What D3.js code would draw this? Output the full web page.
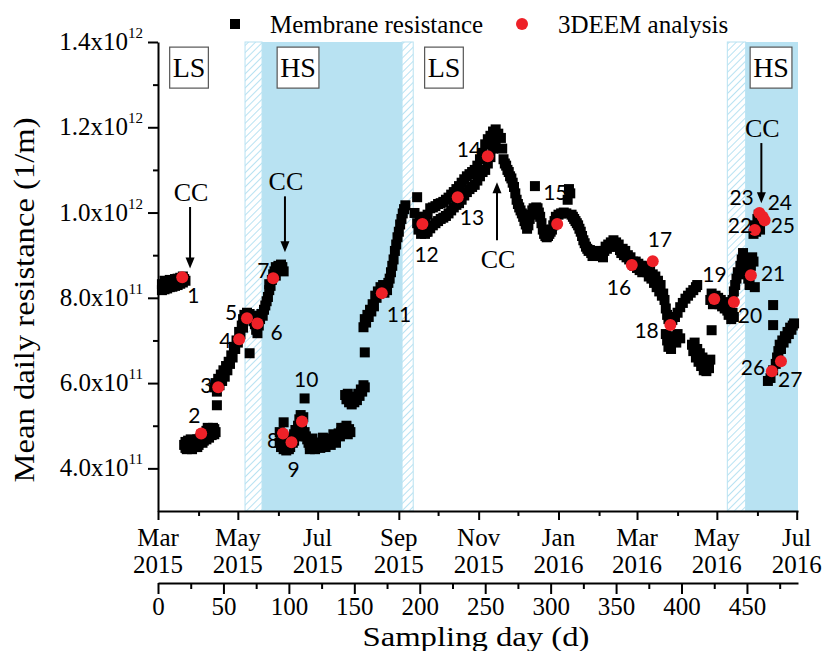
<!DOCTYPE html>
<html><head><meta charset="utf-8">
<script src="https://cdn.jsdelivr.net/npm/d3@7"></script>
<style>
html,body{margin:0;padding:0;background:#fff;}
svg{display:block;}
</style></head><body>
<svg id="chart" width="823" height="651"></svg>
<script>
// ---------------- data ----------------
const UNIT = 1e11; // values below are in units of 1e11 1/m

// Membrane resistance: [sampling day, resistance / 1e11]
const membrane = [
 [3,8.18],[3,8.32],[4,8.25],[5,8.4],[5,8.2],[6,8.3],[7,8.22],[7,8.38],[8,8.3],[9,8.25],[9,8.42],[10,8.32],[11,8.26],[11,8.4],[12,8.34],[13,8.28],[13,8.44],[14,8.36],[15,8.3],[15,8.45],[16,8.38],[17,8.33],[17,8.47],[18,8.4],[19,8.36],[19,8.5],[20,8.44],[21,8.4],
 [20,4.55],[21,4.62],[21,4.48],[22,4.55],[22,4.45],[23,4.65],[23,4.5],[24,4.58],[25,4.52],[25,4.68],[26,4.6],[26,4.45],[27,4.5],[27,4.65],[28,4.58],[29,4.62],[29,4.5],[30,4.68],[30,4.5],[31,4.6],[31,4.55],[32,4.7],[33,4.62],[33,4.78],[34,4.72],[34,4.6],[35,4.65],[35,4.82],[36,4.75],[37,4.68],[37,4.88],[38,4.8],[38,4.95],[39,4.72],[39,4.9],[40,4.84],[41,4.78],[41,4.92],[42,4.86],[42,4.95],[43,4.8],[43,4.92],[44,4.85],
 [45,5.48],
 [43,5.9],[44,6.0],[45,5.8],[46,6.1],[47,5.95],[48,6.2],[49,6.05],[50,6.3],[51,6.15],[52,6.4],[53,6.3],[54,6.5],[55,6.45],[56,6.65],[57,6.6],[58,6.85],[59,6.8],[60,7.0],[61,6.95],[62,7.2],[63,7.15],[64,7.35],[65,7.5],[65,7.3],[66,7.6],[67,7.5],[68,7.65],[69,7.55],[70,6.7],[70,7.62],[71,7.5],[72,7.58],[73,7.45],[74,7.38],[75,7.25],[75,7.45],[76,7.17],[77,7.35],[78,7.5],[79,7.62],[80,7.58],[81,7.72],[82,7.82],[83,7.92],[84,8.02],[85,8.18],[85,8.32],[86,8.28],[87,8.42],[88,8.55],[89,8.62],[90,8.52],[90,8.72],[91,8.68],[92,8.75],[93,8.7],[94,8.78],[95,8.72],[96,8.62],
 [93,4.85],[93,4.6],[94,4.5],[95,4.65],[96,5.08],[96,4.45],[97,4.6],[98,4.42],[99,4.55],[100,4.45],[100,4.65],[101,4.5],[102,4.72],[103,4.6],[104,4.8],[104,4.65],[105,4.9],[106,4.75],[107,5.0],[108,4.85],[108,5.15],[109,5.25],[110,4.95],[111,5.2],[112,5.64],[112,4.85],[113,4.75],[114,4.68],[115,4.6],[116,4.55],[116,4.45],[117,4.62],[118,4.52],[118,4.7],[119,4.58],[120,4.52],[120,4.45],[121,4.6],[122,4.52],[123,4.6],[124,4.55],[124,4.48],[125,4.6],[126,4.56],[126,4.72],[127,4.64],[128,4.58],[128,4.5],[129,4.66],[130,4.6],[131,4.68],[132,4.64],[132,4.55],[133,4.7],[134,4.66],[134,4.8],[135,4.74],[136,4.7],[136,4.6],[137,4.78],[138,4.82],[139,4.75],[140,4.85],[140,4.95],[141,4.9],[142,4.82],[143,4.95],[144,4.88],[144,5.0],[145,4.8],[146,4.92],[147,4.85],
 [143,5.72],[144,5.62],[145,5.75],[146,5.55],[147,5.65],[148,5.5],[149,5.62],[150,5.55],[151,5.68],[152,5.6],[153,5.75],[154,5.7],[155,5.85],[156,5.8],[157,5.95],[158,5.9],
 [158,6.72],
 [157,7.31],[158,7.5],[159,7.42],[160,7.6],[161,7.55],[162,7.72],[163,7.68],[164,7.85],[165,7.8],[166,8.05],[167,8.0],[168,8.15],[169,8.1],[170,8.25],[171,8.2],[172,8.3],[173,8.12],[174,8.25],[175,8.18],[176,8.35],[177,8.45],[178,8.6],[179,8.75],[180,8.9],[181,9.1],[182,9.25],[183,9.42],[184,9.55],[185,9.72],[186,9.85],[187,9.98],[188,10.08],[189,10.17],
 [196,9.99],[198,10.36],[198,9.75],[199,9.6],[200,9.85],[201,9.5],[202,9.9],[203,9.65],[204,9.5],[205,9.55],[204,9.9],[206,9.55],[206,9.95],[208,9.63],[208,10.1],[210,9.7],[210,10.12],[212,9.75],[212,10.15],[214,9.8],[214,10.2],[216,9.85],[216,10.22],[218,9.88],[218,10.25],[220,9.92],[220,10.3],[222,9.98],[222,10.35],[224,10.05],[224,10.42],[226,10.12],[226,10.48],[228,10.18],[228,10.55],[230,10.22],[230,10.62],[232,10.3],[232,10.7],[234,10.4],[234,10.78],[236,10.48],[236,10.85],[238,10.55],[238,10.9],[240,10.6],[240,10.95],[242,10.65],[242,11.0],[244,10.75],[244,11.1],[246,10.85],[246,11.25],[248,10.95],[248,11.4],[250,11.0],[250,11.6],[252,11.15],[252,11.72],[254,11.3],[254,11.8],[256,11.5],[256,11.9],[258,11.7],[258,11.95],[260,11.85],[262,11.75],[263,11.5],
 [264,11.25],[265,11.15],[266,11.1],[267,11.0],[268,10.95],[269,10.85],[270,10.8],[271,10.7],[272,10.6],[273,10.45],[274,10.3],[275,10.2],[276,10.12],[277,10.05],[278,9.98],[279,9.9],[280,9.8],[281,9.72],[282,9.62],
 [283,9.7],[284,9.85],[285,9.95],[286,10.05],[287,10.1],[288,10.62],[289,10.12],[290,10.1],[291,10.0],[292,9.9],[293,9.75],[294,9.6],[295,9.5],[296,9.45],[297,9.42],[298,9.45],[299,9.5],[300,9.55],[301,9.6],[302,9.7],[303,9.8],[304,9.9],[306,9.95],[308,9.98],[310,10.0],[312,9.98],[313,10.3],[314,10.55],[315,10.45],[316,9.95],[317,9.9],[318,9.85],[319,9.8],[320,9.75],[321,9.7],[322,9.62],[323,9.55],[324,9.45],[325,9.35],[326,9.28],[327,9.2],[328,9.15],[329,9.1],[330,9.12],[331,9.05],[332,8.98],[333,9.05],[334,9.0],[335,9.08],[336,9.02],[337,9.1],[338,8.98],[339,9.05],[340,8.95],
 [341,9.1],[342,9.2],[343,9.15],[344,9.25],[345,9.2],[346,9.3],[347,9.2],[348,9.35],[349,9.25],[350,9.3],[351,9.2],[352,9.25],[353,9.12],[354,9.05],[355,9.15],[356,9.0],[357,9.1],[358,8.95],[359,9.0],[360,8.9],[361,8.95],[363,8.85],[364,8.75],[365,8.85],[366,8.7],[367,8.8],[368,8.65],[369,8.75],[370,8.6],[371,8.7],[372,8.62],[373,8.75],[374,8.6],[375,8.5],[376,8.65],[377,8.45],[378,8.55],[379,8.35],[380,8.5],[381,8.25],[382,8.4],[383,8.15],[384,8.3],[385,8.05],[386,8.1],[387,7.95],[388,7.75],[389,7.6],[390,7.5],[388,7.15],[389,7.0],[390,6.85],[391,7.1],[392,6.8],[394,7.05],[396,6.95],[397,7.15],[399,7.05],
 [393,7.48],[395,7.55],[397,7.65],[399,7.78],[401,7.88],[403,7.98],[405,8.05],[407,8.12],[409,8.18],[411,8.25],[412,8.3],
 [408,6.9],[409,6.75],[410,6.95],[411,6.6],[412,6.8],[413,6.5],[414,6.7],[415,6.4],[416,6.6],[417,6.3],[418,6.5],[419,6.28],[420,6.45],[421,6.35],[422,6.55],[423,7.24],
 [422,7.95],[423,8.1],[424,7.85],[426,8.05],[427,7.9],[428,8.0],[429,7.85],[430,7.95],[431,7.8],[432,7.9],[433,7.75],[434,7.85],[435,7.7],[436,7.6],[437,7.75],[438,7.5],[439,7.65],[440,7.55],
 [439,7.95],[440,8.15],[441,8.3],[442,8.45],[443,8.6],[444,8.55],[445,8.75],[446,8.9],[447,9.05],[448,8.7],[449,8.85],[450,8.6],[451,8.45],[452,8.3],[453,8.75],[454,8.95],[455,8.85],[456,8.25],
 [455,9.5],[456,9.7],[457,9.55],[458,9.85],[459,9.95],[460,9.6],[461,9.8],
 [470,7.83],[470,7.36],[466,6.05],[468,6.12],[470,6.3],[472,6.45],[473,6.6],[474,6.75],[475,6.9],[476,6.8],[477,7.0],[478,6.95],[479,7.1],[480,7.05],[481,7.2],[482,7.15],[483,7.3],[484,7.25],[485,7.35],[486,7.4]
];

// 3DEEM analysis samples
const deemDays   = [18.5,33,46,62,68,76,88,95.5,102,110,171,202,229,252,305,362,378,391.5,425,440,453,456,459.5,462,463.5,469,476];
const deemValues = [8.48,4.82,5.90,7.03,7.52,7.40,8.46,4.82,4.61,5.10,8.11,9.73,10.36,11.32,9.73,8.77,8.86,7.36,7.97,7.90,8.53,9.59,9.99,9.9,9.82,6.28,6.51];
const deemLabels = deemDays.map((d,i)=>String(i+1));
// label placement relative to each dot (px): [dx, dy]
const deemLabelOffsets = [[5,26],[-13,-10],[-18,6],[-20,9],[-22,2],[13,17],[-16,0],[-16,15],[-4,35],[-8,-34],[5,29],[-8,38],[2,28],[-31,1],[-14,-24],[-25,30],[-5,-14],[-36,13],[-12,-17],[4,21],[10,6],[-27,3],[-30,-8],[5,-7],[6,13],[-31,4],[-3,26]];

// operation phases (sampling days)
const phases = [
 {kind:"hatch", start:66.5, end:79.5},
 {kind:"solid", start:79.5, end:186.5},
 {kind:"hatch", start:186.5, end:195},
 {kind:"hatch", start:435, end:449},
 {kind:"solid", start:449, end:489}
];
const phaseBoxes = [{text:"LS", day:23.7},{text:"HS", day:107},{text:"LS", day:218.5},{text:"HS", day:468.4}];

// chemical cleaning events: arrow from tail to tip (values / 1e11)
const ccEvents = [
 {day:24.5, tail:10.13, tip:8.69, below:false},
 {day:97,   tail:10.38, tip:9.07, below:false},
 {day:259,  tail:9.35,  tip:10.71, below:true},
 {day:461,  tail:11.63, tip:10.22, below:false}
];

const yTicks = [4,6,8,10,12,14];
const yMinorTicks = [5,7,9,11,13];
const yTickLabels = [["4.0x10","11"],["6.0x10","11"],["8.0x10","11"],["1.0x10","12"],["1.2x10","12"],["1.4x10","12"]];
const dateTickDates = ["2015-03-01","2015-05-01","2015-07-01","2015-09-01","2015-11-01","2016-01-01","2016-03-01","2016-05-01","2016-07-01"];
const dateMinorDates = ["2015-04-01","2015-06-01","2015-08-01","2015-10-01","2015-12-01","2016-02-01","2016-04-01","2016-06-01"];
const dateTickLabels = [["Mar","2015"],["May","2015"],["Jul","2015"],["Sep","2015"],["Nov","2015"],["Jan","2016"],["Mar","2016"],["May","2016"],["Jul","2016"]];
const dayTicks = [0,50,100,150,200,250,300,350,400,450];
const dayMinorTicks = [25,75,125,175,225,275,325,375,425,475];
const startDate = "2015-03-01";

// ---------------- drawing ----------------
const SERIF = '"Liberation Serif","Times New Roman",serif';
const SANS = 'Lato,"Open Sans",sans-serif';
const BLUE = "#b8e2f2";
const RED = "#ee2128";

const svg = d3.select("#chart");
const x = d3.scaleLinear().domain([0, 489]).range([158, 798]);
const y = d3.scaleLinear().domain([3e11, 1.4e12]).range([511, 42]);
const t0 = d3.utcParse("%Y-%m-%d")(startDate);
const dayOf = s => d3.utcDay.count(t0, d3.utcParse("%Y-%m-%d")(s));

// hatch pattern
const defs = svg.append("defs");
const pat = defs.append("pattern").attr("id","hatch").attr("patternUnits","userSpaceOnUse")
  .attr("width",5).attr("height",5).attr("patternTransform","rotate(45)");
pat.append("rect").attr("width",5).attr("height",5).attr("fill","#fff");
pat.append("line").attr("x1",0).attr("y1",0).attr("x2",0).attr("y2",5).attr("stroke",BLUE).attr("stroke-width",2);

svg.append("g").selectAll("rect").data(phases).join("rect")
  .attr("x", d=>x(d.start)).attr("width", d=>x(d.end)-x(d.start))
  .attr("y", y(1.4e12)).attr("height", y(3e11)-y(1.4e12))
  .attr("fill", d=> d.kind==="solid" ? BLUE : "url(#hatch)")
  .attr("stroke", d=> d.kind==="solid" ? "none" : BLUE).attr("stroke-width",1);

// phase label boxes
const pb = svg.append("g").selectAll("g").data(phaseBoxes).join("g");
pb.each(function(d){
  const g = d3.select(this);
  const t = g.append("text").attr("x", x(d.day)).attr("y", 77).attr("text-anchor","middle")
    .style("font-family",SERIF).style("font-size","28px").text(d.text);
  const w = t.node().getComputedTextLength() + 6;
  g.insert("rect","text").attr("x", x(d.day)-w/2).attr("y", y(1.388e12)).attr("width", w).attr("height", 41)
    .attr("fill","#fff").attr("stroke","#555").attr("stroke-width",1.2);
});

// Y axis
const gy = svg.append("g").attr("transform","translate(158,0)")
  .call(d3.axisLeft(y).tickValues(yTicks.map(v=>v*UNIT)).tickSize(10).tickSizeOuter(0).tickFormat(""));
svg.append("g").attr("transform","translate(158,0)")
  .call(d3.axisLeft(y).tickValues(yMinorTicks.map(v=>v*UNIT)).tickSize(5).tickSizeOuter(0).tickFormat(""))
  .select(".domain").remove();
yTicks.forEach((v,i)=>{
  const t = svg.append("text").attr("x",143).attr("y", y(v*UNIT)+8).attr("text-anchor","end")
    .style("font-family",SERIF).style("font-size","25px");
  t.append("tspan").text(yTickLabels[i][0]);
  t.append("tspan").attr("dy",-12).style("font-size","15px").text(yTickLabels[i][1]);
});

// Date axis
const gd = svg.append("g").attr("transform","translate(0,511)")
  .call(d3.axisBottom(x).tickValues(dateTickDates.map(dayOf)).tickSize(9).tickSizeOuter(0).tickFormat(""));
svg.append("g").attr("transform","translate(0,511)")
  .call(d3.axisBottom(x).tickValues(dateMinorDates.map(dayOf)).tickSize(5).tickSizeOuter(0).tickFormat(""))
  .select(".domain").remove();
dateTickDates.forEach((s,i)=>{
  const t = svg.append("text").attr("text-anchor","middle").style("font-family",SERIF).style("font-size","25px");
  t.append("tspan").attr("x", x(dayOf(s))).attr("y", 546).text(dateTickLabels[i][0]);
  t.append("tspan").attr("x", x(dayOf(s))).attr("y", 573).text(dateTickLabels[i][1]);
});

// Sampling day axis
const gs = svg.append("g").attr("transform","translate(0,583)")
  .call(d3.axisBottom(x).tickValues(dayTicks).tickSize(11).tickSizeOuter(0).tickFormat(d3.format("d")));
svg.append("g").attr("transform","translate(0,583)")
  .call(d3.axisBottom(x).tickValues(dayMinorTicks).tickSize(6).tickSizeOuter(0).tickFormat(""))
  .select(".domain").remove();
gs.selectAll("text").attr("y",32).attr("dy",null).style("font-family",SERIF).style("font-size","25px").attr("fill","#000");

svg.selectAll(".domain, .tick line").attr("stroke","#000").attr("stroke-width",2);

// Axis titles
svg.append("text").attr("x",476).attr("y",646).attr("text-anchor","middle")
  .attr("textLength",227).attr("lengthAdjust","spacingAndGlyphs")
  .style("font-family",SERIF).style("font-size","28px").text("Sampling day (d)");
svg.append("text").attr("transform","translate(34,300) rotate(-90)").attr("text-anchor","middle")
  .attr("textLength",365).attr("lengthAdjust","spacingAndGlyphs")
  .style("font-family",SERIF).style("font-size","30px").text("Mean daily resistance (1/m)");

// Membrane resistance squares
svg.append("g").selectAll("rect").data(membrane).join("rect")
  .attr("x", d=>x(d[0])-5).attr("y", d=>y(d[1]*UNIT)-5).attr("width",10).attr("height",10).attr("fill","#000");

// 3DEEM points
svg.append("g").selectAll("circle").data(deemDays).join("circle")
  .attr("cx", d=>x(d)).attr("cy", (d,i)=>y(deemValues[i]*UNIT)).attr("r",6).attr("fill",RED);

svg.append("g").selectAll("text").data(deemDays).join("text")
  .attr("x", (d,i)=>x(d)+deemLabelOffsets[i][0])
  .attr("y", (d,i)=>y(deemValues[i]*UNIT)+deemLabelOffsets[i][1])
  .style("font-family",SANS).style("font-size","21px").attr("fill","#000")
  .text((d,i)=>deemLabels[i]);

// CC arrows
ccEvents.forEach(e=>{
  const ax = x(e.day), yt = y(e.tail*UNIT), yp = y(e.tip*UNIT);
  const dir = yp > yt ? 1 : -1;
  svg.append("line").attr("x1",ax).attr("x2",ax).attr("y1",yt).attr("y2",yp - dir*9)
    .attr("stroke","#000").attr("stroke-width",2);
  svg.append("path").attr("d",`M${ax},${yp} L${ax-4.5},${yp-dir*11} L${ax+4.5},${yp-dir*11} Z`).attr("fill","#000");
  svg.append("text").attr("x",ax+1).attr("y", e.below ? yt+28 : yt-6).attr("text-anchor","middle")
    .style("font-family",SERIF).style("font-size","26px").text("CC");
});

// Legend
svg.append("rect").attr("x",230).attr("y",19).attr("width",10).attr("height",10).attr("fill","#000");
svg.append("text").attr("x",270).attr("y",33).style("font-family",SERIF).style("font-size","25px").text("Membrane resistance");
svg.append("circle").attr("cx",522).attr("cy",24).attr("r",6).attr("fill",RED);
svg.append("text").attr("x",558).attr("y",33).style("font-family",SERIF).style("font-size","25px").text("3DEEM analysis");
</script>
</body></html>
